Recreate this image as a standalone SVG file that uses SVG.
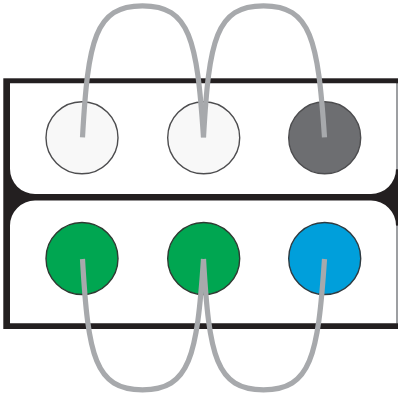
<svg xmlns="http://www.w3.org/2000/svg" width="398" height="396" viewBox="0 0 398 396">
  <style>
    .frame { fill: #231f20; }
    .panel { fill: #ffffff; }
    .edge { fill: #9d9fa2; }
    .port { stroke: #4d4d4f; stroke-width: 1.4; }
    .light { fill: #f8f8f8; }
    .dark { fill: #6d6e71; }
    .green { fill: #00a651; stroke: #2f3a32; }
    .blue { fill: #009fdb; stroke: #2e3a40; }
    .wire { fill: none; stroke: #a7a9ac; stroke-width: 5.2; stroke-linecap: butt; }
  </style>
  <rect width="398" height="396" fill="#ffffff"/>
  <g id="frame">
    <rect class="frame" x="3.3" y="78.3" width="394.7" height="250.7"/>
    <path class="panel" d="M10,83.3 H396 V169 A25,25 0 0 1 371,194 H35 A25,25 0 0 1 10,169 Z"/>
    <path class="panel" d="M35,200.6 H371 A25,25 0 0 1 396,225.6 V323.3 H10 V225.6 A25,25 0 0 1 35,200.6 Z"/>
    <rect class="edge" x="396" y="83.3" width="2" height="86"/>
    <rect class="edge" x="396" y="225.6" width="2" height="97.7"/>
  </g>
  <g id="top-left">
    <circle class="port light" cx="82" cy="137.8" r="36"/>
  </g>
  <g id="top-middle">
    <circle class="port light" cx="203.7" cy="137.8" r="36"/>
  </g>
  <g id="top-right">
    <circle class="port dark" cx="324.7" cy="137.8" r="36"/>
  </g>
  <g id="bottom-left">
    <circle class="port green" cx="82" cy="258.5" r="36"/>
  </g>
  <g id="bottom-middle">
    <circle class="port green" cx="203.7" cy="258.5" r="36"/>
  </g>
  <g id="bottom-right">
    <circle class="port blue" cx="324.7" cy="258.5" r="36"/>
  </g>
  <g id="connectors">
    <path class="wire" d="M82.5,137.3 C88,40 95,5.8 142.5,5.8 S197,40 203.5,137.3"/>
    <path class="wire" d="M203.5,137.3 C209,40 216,5.8 263.5,5.8 S318,40 324.5,137.3"/>
    <path class="wire" d="M82.5,259 C88,356 95,389.8 142.5,389.8 S197,356 203.5,259"/>
    <path class="wire" d="M203.5,259 C209,356 216,389.8 263.5,389.8 S318,356 324.5,259"/>
  </g>
</svg>
